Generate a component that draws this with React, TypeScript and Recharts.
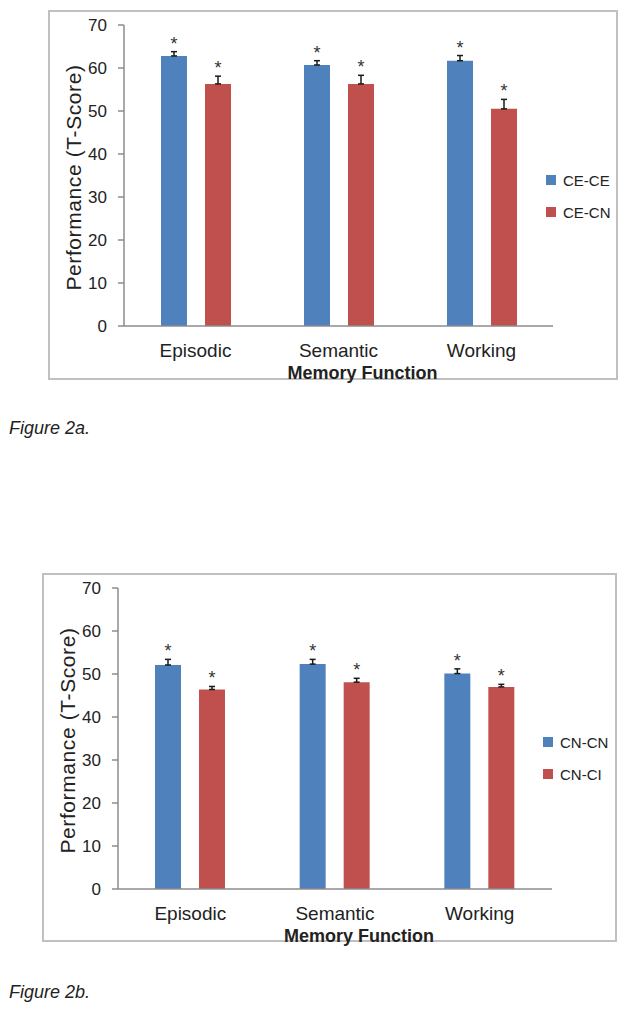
import { Bar, BarChart, ErrorBar, LabelList, Legend, XAxis, YAxis } from 'recharts'

const categories = ['Episodic', 'Semantic', 'Working']
const yTicks = [0, 10, 20, 30, 40, 50, 60, 70]

// Figure 2a
const ceCeScores = [62.8, 60.7, 61.7]
const ceCeErrors = [1.0, 1.0, 1.2]
const ceCnScores = [56.3, 56.3, 50.5]
const ceCnErrors = [1.8, 2.0, 2.2]

// Figure 2b
const cnCnScores = [52.1, 52.3, 50.1]
const cnCnErrors = [1.3, 1.1, 1.1]
const cnCiScores = [46.4, 48.1, 47.0]
const cnCiErrors = [0.7, 0.9, 0.6]

const blue = '#4F81BD'
const red = '#C0504D'
const axisGray = '#8C8C8C'
const textColor = '#222'
const fontFamily = '"Liberation Sans", Arial, sans-serif'

function buildRows(a: number[], aErr: number[], b: number[], bErr: number[]) {
  return categories.map((category, i) => ({
    category,
    a: a[i],
    aErr: [0, aErr[i]],
    b: b[i],
    bErr: [0, bErr[i]],
  }))
}

function starLabel(errors: number[]) {
  return function renderStar(props: any) {
    const box = props.viewBox ?? props
    const x = Number(box.x)
    const y = Number(box.y)
    const width = Number(box.width)
    const height = Number(box.height)
    const value = Number(props.value)
    const pxPerUnit = value ? height / value : 0
    const top = y - (errors[props.index] ?? 0) * pxPerUnit
    return (
      <text x={x + width / 2} y={top - 2} textAnchor="middle" fontSize={18} fill="#333">
        *
      </text>
    )
  }
}

function renderLegend(props: any) {
  const items = props.payload ?? []
  return (
    <div style={{ fontFamily, fontSize: 15, color: textColor }}>
      {items.map((entry: any) => (
        <div key={entry.value} style={{ display: 'flex', alignItems: 'center', height: 32 }}>
          <span style={{ width: 10, height: 10, background: entry.color, marginRight: 7 }} />
          <span>{entry.value}</span>
        </div>
      ))}
    </div>
  )
}

type PanelProps = {
  left: number
  top: number
  width: number
  height: number
  rows: ReturnType<typeof buildRows>
  names: [string, string]
  errors: [number[], number[]]
  legendLeft: number
  legendTop: number
}

function Panel({ left, top, width, height, rows, names, errors, legendLeft, legendTop }: PanelProps) {
  return (
    <>
      <div
        style={{
          position: 'absolute',
          left,
          top,
          width,
          height,
          border: '2px solid #C0C0C0',
          boxSizing: 'border-box',
        }}
      />
      <div style={{ position: 'absolute', left, top }}>
        <BarChart
          width={width}
          height={height + 20}
          data={rows}
          barSize={26}
          barGap={18}
          margin={{ top: 15, right: 65, bottom: height + 20 - 316 - 30, left: 26 }}
          style={{ fontFamily }}
        >
          <XAxis
            dataKey="category"
            height={30}
            tickLine={false}
            tickSize={0}
            tickMargin={18}
            axisLine={{ stroke: axisGray, strokeWidth: 1.5 }}
            tick={{ fontSize: 19, fill: textColor }}
            label={{
              value: 'Memory Function',
              position: 'bottom',
              offset: 10,
              dx: 24,
              fontSize: 18,
              fontWeight: 'bold',
              fill: textColor,
            }}
          />
          <YAxis
            domain={[0, 70]}
            ticks={yTicks}
            interval={0}
            width={50}
            tickSize={6}
            tickMargin={11}
            axisLine={{ stroke: axisGray, strokeWidth: 1.5 }}
            tickLine={{ stroke: axisGray, strokeWidth: 1.5 }}
            tick={{ fontSize: 17, fill: textColor }}
            label={{
              value: 'Performance (T-Score)',
              angle: -90,
              position: 'center',
              dx: -25,
              dy: 2,
              fontSize: 21,
              letterSpacing: 0.6,
              fill: textColor,
            }}
          />
          <Legend
            layout="vertical"
            align="center"
            verticalAlign="middle"
            itemSorter="dataKey"
            content={renderLegend}
            wrapperStyle={{ left: legendLeft, top: legendTop, width: 'auto' }}
          />
          <Bar dataKey="a" name={names[0]} fill={blue} isAnimationActive={false}>
            <ErrorBar dataKey="aErr" width={3} stroke="#1a1a1a" strokeWidth={1.5} isAnimationActive={false} />
            <LabelList dataKey="a" content={starLabel(errors[0])} />
          </Bar>
          <Bar dataKey="b" name={names[1]} fill={red} isAnimationActive={false}>
            <ErrorBar dataKey="bErr" width={3} stroke="#1a1a1a" strokeWidth={1.5} isAnimationActive={false} />
            <LabelList dataKey="b" content={starLabel(errors[1])} />
          </Bar>
        </BarChart>
      </div>
    </>
  )
}

const captionStyle = {
  position: 'absolute' as const,
  left: 9,
  fontFamily,
  fontStyle: 'italic',
  fontSize: 18,
  lineHeight: '20px',
  color: textColor,
}

export default function App() {
  const rowsA = buildRows(ceCeScores, ceCeErrors, ceCnScores, ceCnErrors)
  const rowsB = buildRows(cnCnScores, cnCnErrors, cnCiScores, cnCiErrors)

  return (
    <div style={{ position: 'absolute', left: 0, top: 0, width: 631, height: 1010, background: '#fff' }}>
      <Panel
        left={48}
        top={10}
        width={570}
        height={370}
        rows={rowsA}
        names={['CE-CE', 'CE-CN']}
        errors={[ceCeErrors, ceCnErrors]}
        legendLeft={498}
        legendTop={154}
      />
      <div style={{ ...captionStyle, top: 418 }}>Figure 2a.</div>
      <Panel
        left={42}
        top={573}
        width={575}
        height={369}
        rows={rowsB}
        names={['CN-CN', 'CN-CI']}
        errors={[cnCnErrors, cnCiErrors]}
        legendLeft={501}
        legendTop={153}
      />
      <div style={{ ...captionStyle, top: 982 }}>Figure 2b.</div>
    </div>
  )
}
